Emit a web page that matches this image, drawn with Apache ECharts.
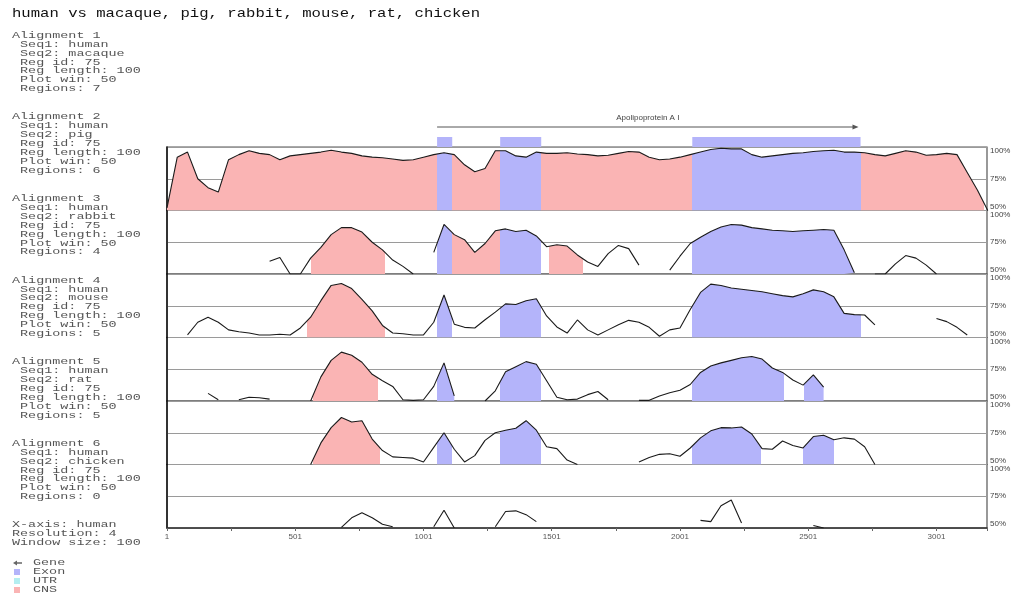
<!DOCTYPE html>
<html>
<head>
<meta charset="utf-8">
<script src="https://cdn.jsdelivr.net/npm/echarts@6/dist/echarts.min.js"></script>
<style>
  html, body { margin: 0; padding: 0; background: #ffffff; }
  #chart { width: 1018px; height: 596px; }
</style>
</head>
<body>
<div id="chart"></div>
<script>
// Sample positions along the human sequence (bp)
const POSITIONS = [1,41,81,121,161,201,241,281,321,361,401,441,481,521,561,601,641,681,721,761,
  801,841,881,921,961,1001,1041,1081,1121,1161,1201,1241,1281,1321,1361,1401,1441,1481,1521,1561,
  1601,1641,1681,1721,1761,1801,1841,1881,1921,1961,2001,2041,2081,2121,2161,2201,2241,2281,2321,2361,
  2401,2441,2481,2521,2561,2601,2641,2681,2721,2761,2801,2841,2881,2921,2961,3001,3041,3081,3121,3161,3201];

// Percent identity (window 100) for each pairwise alignment; null = below plot minimum
const MACAQUE = [52,92,96,75,68,64.5,90,94,97,95, 94,90,93,94,95,96,97.5,96,95,93,
  92,91.5,90.5,89.5,90,92,94,95.5,94,86, 80.5,83,97,97,93,92,96,95,95,95.5,
  94.5,94,93,93.5,95,96.5,96,92,90,90.5, 92,94,96,98,99,98.5,98.5,94,92,93,
  94,95,95.5,96.5,97,97.5,96,96,95.5,94, 93,95,97,96,93.5,94,95,94,80,66, 50];

const PIG = [null,null,null,null,null,null,null,null,null,null, 60,63,50,50,62.5,71,81,86.5,86.5,83,
  75,69,61,56,50,null,67,89,81,77, 67,74,84,85.5,83.5,84.5,80,71.5,73,72,
  65,59.5,56,66,72.5,70,57,null,null,53, 64,74,79,83.5,87,89,88.5,86.5,85.5,84.5,
  84,83.5,84,84.5,85,84.5,69,51,null,50, 50,58,64.5,62.5,57,50,null,null,null,null, null];

const RABBIT = [null,null,52,62,66,62,56,54.5,53.5,52, 52,52.5,52,57.5,66,79,91,92.5,88.5,80,
  71,59.5,53.5,53,52,52,62,83.5,60.5,58, 57.5,64,70,76.5,76,79,80.5,67,58.3,53.5,
  63.8,56,52,56,60,63.5,62,58,51,56, 57.5,72,85.5,92,91,89,88,87,86,84.5,
  83,82,84.5,87.5,86,82,69,68,67.7,60, null,null,null,null,null,65,62.5,58,52,null, null];

const MOUSE = [null,null,null,null,56,51,null,51,53,52.5, 51.5,null,null,null,50,69,82,88.5,86,80.5,
  71,66,61.5,51,50.5,51,61.5,80,54,null, null,50,58,73,77,81,79,66,53,51,
  51.5,55,57.5,51,null,null,50.5,50.5,54,56.5, 58.5,63,72.5,77.5,80,82,84,85,83,76,
  72.5,66.5,62.5,70.5,61,null,null,null,null,null, null,null,null,null,null,null,null,null,null,null, null];

const RAT = [null,null,null,null,null,null,null,null,null,null, null,null,null,null,50,67,79,87,83.5,84.5,
  70,61,56,55.5,55,52,63.5,75,62,52, 57,69,75,77,78.5,84.5,77,64,62.5,53.5,
  50,null,null,null,null,null,52,55.5,58,58.5, 56.5,63,71,76.5,79,78.8,79.5,74,62.5,62,
  68.5,65,63,72,73,69.5,71,70,64,50, null,null,null,null,null,null,null,null,null,null, null];

const CHICKEN = [null,null,null,null,null,null,null,null,null,null, null,null,null,null,null,null,null,50.5,58,62,
  58,53,51,null,null,null,51,64,50,null, null,null,51,63,63.5,60.5,55,null,null,null,
  null,null,null,null,null,null,null,null,null,null, null,null,56,55,67.5,72,54,null,null,null,
  null,null,null,52,50,null,null,null,null,null, null,null,null,null,null,null,null,null,null,null, null];

// Conserved regions [start bp, end bp, kind]
const MACAQUE_REGIONS = [[1,1054,'CNS'],[1054,1113,'Exon'],[1113,1300,'CNS'],[1300,1460,'Exon'],
  [1460,2049,'CNS'],[2049,2705,'Exon'],[2705,3185,'CNS']];
const PIG_REGIONS = [[563,852,'CNS'],[1054,1113,'Exon'],[1113,1300,'CNS'],[1300,1460,'Exon'],
  [1491,1624,'CNS'],[2049,2678,'Exon']];
const RABBIT_REGIONS = [[547,852,'CNS'],[1054,1113,'Exon'],[1300,1460,'Exon'],[2049,2705,'Exon']];
const MOUSE_REGIONS = [[571,824,'CNS'],[1054,1125,'Exon'],[1300,1460,'Exon'],[2049,2408,'Exon'],[2486,2576,'Exon']];
const RAT_REGIONS = [[571,832,'CNS'],[1054,1113,'Exon'],[1300,1460,'Exon'],[2049,2315,'Exon'],[2482,2603,'Exon']];
const CHICKEN_REGIONS = [];

// Gene annotation
const GENE_NAME = 'Apolipoprotein A I';
const GENE_START = 1054;
const GENE_END = 2697;
const EXON_STARTS = [1054, 1300, 2049];
const EXON_ENDS = [1113, 1460, 2705];

// Text
const TITLE = 'human vs macaque, pig, rabbit, mouse, rat, chicken';
const REFERENCE = 'human';
const SPECIES = ['macaque', 'pig', 'rabbit', 'mouse', 'rat', 'chicken'];
const REGION_COUNTS = [7, 6, 4, 5, 5, 0];
const REG_ID = 75, REG_LENGTH = 100, PLOT_WIN = 50;
const FOOTER = ['X-axis: human', 'Resolution: 4', 'Window size: 100'];
const LEGEND_ITEMS = ['Gene', 'Exon', 'UTR', 'CNS'];

const EXON_COLOR = '#b4b4fa';
const CNS_COLOR = '#fab4b4';
const UTR_COLOR = '#b4eef0';
const MONO = '"Liberation Mono", "DejaVu Sans Mono", monospace';

const X_MAX = 3197;
const toX = bp => bp - 1;

const PANELS = [
  { values: MACAQUE, regions: MACAQUE_REGIONS },
  { values: PIG, regions: PIG_REGIONS },
  { values: RABBIT, regions: RABBIT_REGIONS },
  { values: MOUSE, regions: MOUSE_REGIONS },
  { values: RAT, regions: RAT_REGIONS },
  { values: CHICKEN, regions: CHICKEN_REGIONS }
];

const PANEL_TOP = 147, PANEL_H = 63.5, PLOT_LEFT = 167, PLOT_RIGHT = 31;

const grids = [], xAxes = [], yAxes = [], series = [], visualMaps = [];

PANELS.forEach((p, i) => {
  const last = i === PANELS.length - 1;
  grids.push({
    left: PLOT_LEFT, right: PLOT_RIGHT, top: PANEL_TOP + i * PANEL_H, height: PANEL_H,
    show: true, borderColor: '#555', borderWidth: 1.2, backgroundColor: 'transparent',
    outerBoundsMode: 'none'
  });
  xAxes.push({
    gridIndex: i, type: 'value', min: 0, max: X_MAX, interval: 250,
    axisLine: { show: last, onZero: false, lineStyle: { color: '#333', width: 1.5 } },
    axisTick: { show: last, length: 3, lineStyle: { color: '#666' } },
    axisLabel: {
      show: last, margin: 5, fontSize: 8, color: '#555', fontFamily: 'Liberation Sans',
      formatter: v => (v % 500 === 0 ? String(v + 1) : '')
    },
    splitLine: { show: false }
  });
  yAxes.push({
    gridIndex: i, type: 'value', min: 50, max: 100, interval: 25, position: 'right',
    axisLine: { show: true, lineStyle: { color: '#111', width: 1.5 } },
    axisTick: { show: false },
    axisLabel: {
      margin: 3, fontSize: 8, color: '#444', fontFamily: 'Liberation Sans',
      formatter: '{value}%',
      verticalAlignMinLabel: 'bottom', verticalAlignMaxLabel: 'top'
    },
    splitLine: { show: true, lineStyle: { color: '#9a9a9a', width: 1 } }
  });

  const data = POSITIONS.map((bp, k) => [toX(bp), p.values[k]]);

  if (p.regions.length) {
    visualMaps.push({
      type: 'piecewise', show: false, dimension: 0, seriesIndex: series.length,
      pieces: p.regions.map(r => ({
        gte: toX(r[0]), lte: toX(r[1]),
        color: r[2] === 'Exon' ? EXON_COLOR : CNS_COLOR
      })),
      outOfRange: { color: 'rgba(0,0,0,0)' }
    });
    series.push({
      type: 'line', xAxisIndex: i, yAxisIndex: i, data,
      showSymbol: false, symbol: 'none', silent: true, z: 1,
      lineStyle: { width: 0, opacity: 0 },
      areaStyle: { opacity: 1, origin: 'start' }
    });
  }
  series.push({
    type: 'line', xAxisIndex: i, yAxisIndex: i, data,
    showSymbol: false, symbol: 'none', silent: true, z: 2,
    itemStyle: { color: '#1a1a1a' },
    lineStyle: { color: '#1a1a1a', width: 1.1 }
  });
});

// Annotation track above the plots
const ANN = PANELS.length;
grids.push({ left: PLOT_LEFT, right: PLOT_RIGHT, top: 110, height: 37, show: false, outerBoundsMode: 'none' });
xAxes.push({ gridIndex: ANN, type: 'value', min: 0, max: X_MAX, show: false });
yAxes.push({ gridIndex: ANN, type: 'value', min: 0, max: 1, show: false });

series.push({
  type: 'custom', xAxisIndex: ANN, yAxisIndex: ANN, silent: true,
  data: EXON_STARTS.map((s, k) => [toX(s), toX(EXON_ENDS[k])]),
  encode: { x: [0, 1] },
  renderItem: (params, api) => {
    const a = api.coord([api.value(0), 0]);
    const b = api.coord([api.value(1), 0]);
    return { type: 'rect', shape: { x: a[0], y: a[1] - 10, width: b[0] - a[0], height: 10 },
             style: { fill: EXON_COLOR } };
  }
});

series.push({
  type: 'custom', xAxisIndex: ANN, yAxisIndex: ANN, silent: true,
  data: [[toX(GENE_START), toX(GENE_END)]],
  encode: { x: [0, 1] },
  renderItem: (params, api) => {
    const a = api.coord([api.value(0), 0]);
    const b = api.coord([api.value(1), 0]);
    const y = a[1] - 20;
    return {
      type: 'group',
      children: [
        { type: 'line', shape: { x1: a[0], y1: y, x2: b[0] - 4, y2: y }, style: { stroke: '#555', lineWidth: 1 } },
        { type: 'polygon', shape: { points: [[b[0], y], [b[0] - 6, y - 2.5], [b[0] - 6, y + 2.5]] }, style: { fill: '#555' } },
        { type: 'text', x: (a[0] + b[0]) / 2, y: y - 9,
          style: { text: GENE_NAME, fontSize: 8, fontFamily: 'Liberation Sans', fill: '#444', align: 'center', verticalAlign: 'middle' } }
      ]
    };
  }
});

// Side text: title, alignment parameters, legend
const INFO_TOP = 31, BLOCK_STEP = 81.6, LINE_H = 8.9, TEXT_SCALE = 1.49;
const graphics = [];
graphics.push({
  type: 'text', x: 12, y: 14, scaleX: 1.2,
  style: { text: TITLE, fontSize: 13, fontFamily: MONO, fill: '#111', verticalAlign: 'middle' }
});
SPECIES.forEach((sp, i) => {
  const lines = ['Alignment ' + (i + 1), ' Seq1: ' + REFERENCE, ' Seq2: ' + sp, ' Reg id: ' + REG_ID,
    ' Reg length: ' + REG_LENGTH, ' Plot win: ' + PLOT_WIN, ' Regions: ' + REGION_COUNTS[i]];
  graphics.push({
    type: 'text', x: 12, y: INFO_TOP + i * BLOCK_STEP, scaleX: TEXT_SCALE,
    style: { text: lines.join('\n'), fontSize: 9, lineHeight: LINE_H, fontFamily: MONO, fill: '#555', verticalAlign: 'top' }
  });
});
graphics.push({
  type: 'text', x: 12, y: INFO_TOP + SPECIES.length * BLOCK_STEP, scaleX: TEXT_SCALE,
  style: { text: FOOTER.join('\n'), fontSize: 9, lineHeight: LINE_H, fontFamily: MONO, fill: '#555', verticalAlign: 'top' }
});
const LEGEND_Y = 563;
LEGEND_ITEMS.forEach((name, k) => {
  const cy = LEGEND_Y + k * 9;
  graphics.push({
    type: 'text', x: 33, y: cy, scaleX: TEXT_SCALE,
    style: { text: name, fontSize: 9, fontFamily: MONO, fill: '#555', verticalAlign: 'middle' }
  });
  if (k === 0) {
    graphics.push({ type: 'line', shape: { x1: 15, y1: cy, x2: 22, y2: cy }, style: { stroke: '#666', lineWidth: 1.5 } });
    graphics.push({ type: 'polygon', shape: { points: [[13, cy], [17, cy - 2.5], [17, cy + 2.5]] }, style: { fill: '#666' } });
  } else {
    const fill = [null, EXON_COLOR, UTR_COLOR, CNS_COLOR][k];
    graphics.push({ type: 'rect', shape: { x: 14, y: cy - 3, width: 6, height: 6 }, style: { fill } });
  }
});

const chart = echarts.init(document.getElementById('chart'), null, { renderer: 'canvas' });
chart.setOption({
  backgroundColor: '#ffffff',
  animation: false,
  grid: grids,
  xAxis: xAxes,
  yAxis: yAxes,
  visualMap: visualMaps,
  series: series,
  graphic: { elements: graphics }
});
</script>
</body>
</html>
